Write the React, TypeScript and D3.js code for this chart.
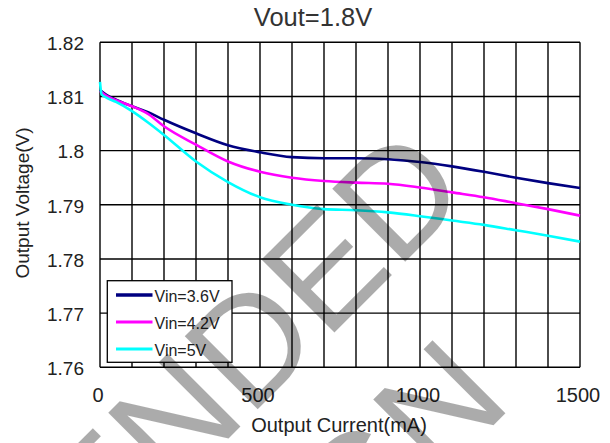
import * as d3 from "d3";
import { useEffect, useRef } from "react";

// output current (mA) and output voltage (V)
const current = [0, 20, 50, 100, 150, 200, 300, 400, 500, 600, 700, 800, 900, 1000, 1100, 1200, 1300, 1400, 1500];
const vin36 = [1.8112, 1.8103, 1.8094, 1.8082, 1.8071, 1.8057, 1.8032, 1.801, 1.7997, 1.7988, 1.7986, 1.7986, 1.7984, 1.7979, 1.7971, 1.7961, 1.795, 1.794, 1.7931];
const vin42 = [1.811, 1.8101, 1.8093, 1.8082, 1.8068, 1.8045, 1.8011, 1.798, 1.7961, 1.795, 1.7944, 1.7941, 1.7939, 1.7932, 1.7923, 1.7914, 1.7903, 1.7892, 1.788];
const currentVin5 = [0, 5, 20, 50, 100, 150, 200, 300, 400, 500, 600, 700, 800, 900, 1000, 1100, 1200, 1300, 1400, 1500];
const vin5 = [1.8127, 1.8104, 1.8098, 1.809, 1.8073, 1.8052, 1.8029, 1.798, 1.7942, 1.7914, 1.79, 1.7892, 1.789, 1.7886, 1.7879, 1.7871, 1.7863, 1.7853, 1.7843, 1.7832];

const seriesNames = ["Vin=3.6V", "Vin=4.2V", "Vin=5V"];
const seriesColors = ["#000080", "#ff00ff", "#00ffff"];
const xTicks = [0, 500, 1000, 1500];
const yTicks = [1.76, 1.77, 1.78, 1.79, 1.8, 1.81, 1.82];
const yTickLabels = ["1.76", "1.77", "1.78", "1.79", "1.8", "1.81", "1.82"];

const FONT = "'Liberation Sans', Arial, sans-serif";

const LoadChart = ({ width, height }) => {
  const svgRef = useRef(null);

  useEffect(() => {
    const svg = d3.select(svgRef.current);
    svg.selectAll("*").remove();
    svg.attr("width", width).attr("height", height);

    const plot = { left: 100, right: 580, top: 42.3, bottom: 367.3 };

    const xScale = d3.scaleLinear().domain([0, 1500]).range([plot.left, plot.right]);
    const yScale = d3.scaleLinear().domain([1.76, 1.82]).range([plot.bottom, plot.top]);

    svg.append("rect").attr("width", width).attr("height", height).attr("fill", "#fff");

    // title
    svg
      .append("text")
      .attr("x", 313)
      .attr("y", 26)
      .attr("text-anchor", "middle")
      .attr("font-family", FONT)
      .attr("font-size", 25.5)
      .attr("fill", "#333")
      .text("Vout=1.8V");

    // grid
    svg
      .selectAll(".vgrid")
      .data(d3.range(0, 1501, 100))
      .enter()
      .append("line")
      .attr("class", "vgrid")
      .attr("x1", (d) => xScale(d))
      .attr("x2", (d) => xScale(d))
      .attr("y1", plot.top)
      .attr("y2", plot.bottom)
      .attr("stroke", "#000")
      .attr("stroke-width", 1.4);

    svg
      .selectAll(".hgrid")
      .data(yTicks)
      .enter()
      .append("line")
      .attr("class", "hgrid")
      .attr("x1", plot.left)
      .attr("x2", plot.right)
      .attr("y1", (d) => yScale(d))
      .attr("y2", (d) => yScale(d))
      .attr("stroke", "#000")
      .attr("stroke-width", 1.4);

    // tick labels
    svg
      .selectAll(".ylabel")
      .data(yTicks)
      .enter()
      .append("text")
      .attr("class", "ylabel")
      .attr("x", 84)
      .attr("y", (d) => yScale(d) + 7.8)
      .attr("text-anchor", "end")
      .attr("font-family", FONT)
      .attr("font-size", 19)
      .attr("fill", "#222")
      .text((d, i) => yTickLabels[i]);

    svg
      .selectAll(".xlabel")
      .data(xTicks)
      .enter()
      .append("text")
      .attr("class", "xlabel")
      .attr("x", (d) => xScale(d) - 2)
      .attr("y", 402)
      .attr("text-anchor", "middle")
      .attr("font-family", FONT)
      .attr("font-size", 20)
      .attr("fill", "#222")
      .text((d) => d);

    // axis titles
    svg
      .append("text")
      .attr("x", 339)
      .attr("y", 432)
      .attr("text-anchor", "middle")
      .attr("font-family", FONT)
      .attr("font-size", 20)
      .attr("fill", "#222")
      .text("Output Current(mA)");

    svg
      .append("text")
      .attr("transform", "translate(28.5,203) rotate(-90)")
      .attr("text-anchor", "middle")
      .attr("font-family", FONT)
      .attr("font-size", 19)
      .attr("fill", "#222")
      .text("Output Voltage(V)");

    // curves
    const series = [
      current.map((c, i) => [c, vin36[i]]),
      current.map((c, i) => [c, vin42[i]]),
      currentVin5.map((c, i) => [c, vin5[i]]),
    ];
    const line = d3
      .line()
      .x((d) => xScale(d[0]))
      .y((d) => yScale(d[1]))
      .curve(d3.curveMonotoneX);

    svg
      .selectAll(".curve")
      .data(series)
      .enter()
      .append("path")
      .attr("class", "curve")
      .attr("d", (d) => line(d))
      .attr("fill", "none")
      .attr("stroke", (d, i) => seriesColors[i])
      .attr("stroke-width", 2.6)
      .attr("stroke-linejoin", "round");

    // legend
    const legend = svg.append("g");
    legend
      .append("rect")
      .attr("x", 107.3)
      .attr("y", 280.7)
      .attr("width", 124.7)
      .attr("height", 81.6)
      .attr("fill", "#fff")
      .attr("stroke", "#000")
      .attr("stroke-width", 1.3);

    const rowY = [295, 322, 349];
    legend
      .selectAll(".legline")
      .data(seriesNames)
      .enter()
      .append("line")
      .attr("x1", 116)
      .attr("x2", 152.5)
      .attr("y1", (d, i) => rowY[i])
      .attr("y2", (d, i) => rowY[i])
      .attr("stroke", (d, i) => seriesColors[i])
      .attr("stroke-width", (d, i) => (i === 0 ? 3.6 : 2.8));

    legend
      .selectAll(".legtext")
      .data(seriesNames)
      .enter()
      .append("text")
      .attr("x", 154.5)
      .attr("y", (d, i) => rowY[i] + 6.5)
      .attr("font-family", FONT)
      .attr("font-size", 16)
      .attr("fill", "#222")
      .text((d) => d);

    // watermark
    const mark = svg
      .append("g")
      .attr("transform", "translate(473,194) rotate(-45)")
      .attr("font-family", FONT)
      .attr("font-size", 150)
      .attr("fill", "#000")
      .attr("fill-opacity", 0.33)
      .attr("text-anchor", "end");
    mark.append("text").attr("x", 0).attr("y", 0).text("NOT RECOMMENDED");
    mark.append("text").attr("x", -120).attr("y", 178).text("FOR NEW DESIGN");
  }, [width, height]);

  return <svg ref={svgRef} style={{ position: "absolute", left: 0, top: 0 }}></svg>;
};

export default function App() {
  return <LoadChart width={610} height={443} />;
}
